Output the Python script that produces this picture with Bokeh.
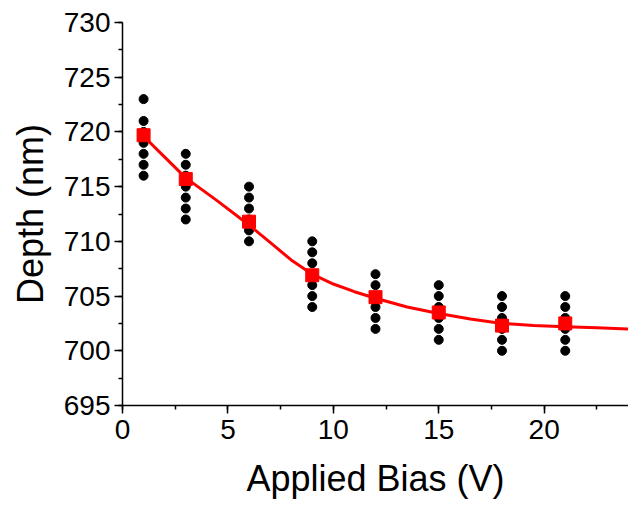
from bokeh.plotting import figure
from bokeh.models import SingleIntervalTicker
from bokeh.embed import file_html
from bokeh.resources import INLINE

# Raw measurements (black dots)
bias_points = [1]*7 + [3]*7 + [6]*6 + [9]*7 + [12]*6 + [15]*6 + [18]*6 + [21]*6
depth_points = [723, 721, 720, 719, 718, 717, 716,
                718, 717, 716, 715, 714, 713, 712,
                715, 714, 713, 712, 711, 710,
                710, 709, 708, 707, 706, 705, 704,
                707, 706, 705, 704, 703, 702,
                706, 705, 704, 703, 702, 701,
                705, 704, 703, 702, 701, 700,
                705, 704, 703, 702, 701, 700]

# Means (red squares)
bias_mean = [1, 3, 6, 9, 12, 15, 18, 21]
depth_mean = [719.7, 715.7, 711.8, 706.9, 704.9, 703.5, 702.3, 702.5]

# Fit curve
fit_x = [1, 2, 3, 4.5, 6, 7, 8, 9, 10, 11, 12, 13.5, 15, 16.5, 18, 19.5, 21, 22.5, 24]
fit_y = [719.6, 717.7, 715.8, 713.7, 711.5, 709.9, 708.3, 707.0, 706.1, 705.4, 704.8, 704.0,
         703.4, 702.9, 702.5, 702.3, 702.2, 702.1, 702.0]

FONT = "Liberation Sans"

p = figure(width=628, height=506, x_range=(0, 24), y_range=(695, 730),
           output_backend="svg", toolbar_location=None,
           min_border_left=122, min_border_right=0, min_border_top=22,
           min_border_bottom=101)
p.outline_line_color = None
p.grid.visible = False
p.background_fill_color = "white"
p.border_fill_color = "white"

p.scatter(bias_points, depth_points, size=9, color="black")
p.line(fit_x, fit_y, line_color="#ff0000", line_width=3)
p.scatter(bias_mean, depth_mean, marker="square", size=13, color="#ff0000")

p.xaxis.ticker = SingleIntervalTicker(interval=5, num_minor_ticks=2)
p.yaxis.ticker = SingleIntervalTicker(interval=5, num_minor_ticks=2)
p.xaxis.axis_label = "Applied Bias (V)"
p.yaxis.axis_label = "Depth (nm)"

for ax in (p.xaxis[0], p.yaxis[0]):
    ax.axis_line_color = "black"
    ax.axis_line_width = 1.5
    ax.major_tick_line_color = "black"
    ax.minor_tick_line_color = "black"
    ax.major_tick_line_width = 1.5
    ax.minor_tick_line_width = 1.5
    ax.major_tick_out = 8
    ax.major_tick_in = 0
    ax.minor_tick_out = 4
    ax.minor_tick_in = 0
    ax.major_label_text_font = FONT
    ax.major_label_text_font_size = "28px"
    ax.major_label_text_color = "black"
    ax.axis_label_text_font = FONT
    ax.axis_label_text_font_size = "36px"
    ax.axis_label_text_font_style = "normal"
    ax.axis_label_text_color = "black"

p.xaxis.major_label_standoff = 6
p.yaxis.major_label_standoff = 4
p.xaxis.axis_label_standoff = 16
p.yaxis.axis_label_standoff = 10

open("out.html", "w").write(file_html(p, INLINE))
